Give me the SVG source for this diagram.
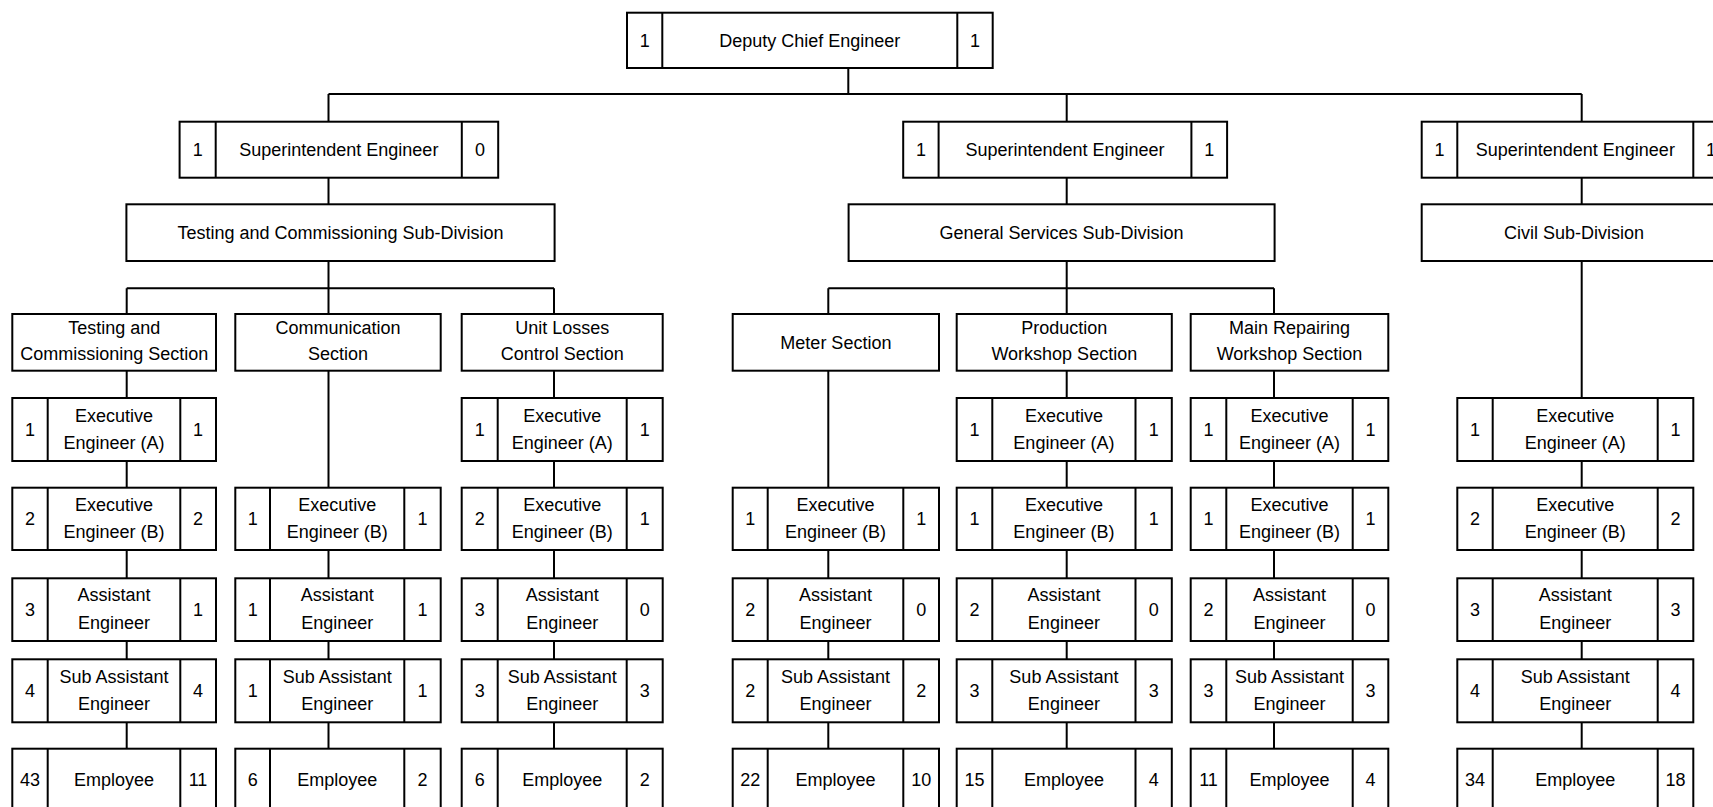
<svg xmlns="http://www.w3.org/2000/svg" width="1713" height="807" viewBox="0 0 1713 807">
<style>
.b{fill:#fff;stroke:#000;stroke-width:2}
.d{fill:none;stroke:#000;stroke-width:2}
.c path{fill:none;stroke:#000;stroke-width:2}
text{font-family:"Liberation Sans",Arial,sans-serif;font-size:18px;text-anchor:middle;fill:#000}
</style>
<rect width="1713" height="807" fill="#fff"/>
<g id="connectors" class="c">
<path d="M848.3 68V94M328.5 94H1581.7M328.5 94V748.7M1066.7 94V748.7M1581.7 94V748.7M126.7 288.3H554M828.3 288.3H1274M126.7 288.3V748.7M554 288.3V748.7M828.3 288.3V748.7M1274 288.3V748.7"/>
</g>

<g id="deputy"><rect class="b" x="627" y="12.7" width="365.7" height="55.3"/><path class="d" d="M662.3 12.7V68M957.3 12.7V68"/><text x="644.7" y="46.5">1</text><text x="809.8" y="46.5">Deputy Chief Engineer</text><text x="975" y="46.5">1</text></g>

<g id="super1"><rect class="b" x="179.6" y="121.7" width="318.6" height="56"/><path class="d" d="M215.7 121.7V177.7M461.8 121.7V177.7"/><text x="197.7" y="156">1</text><text x="338.8" y="156">Superintendent Engineer</text><text x="480" y="156">0</text></g>
<g id="super2"><rect class="b" x="903.2" y="121.7" width="323.9" height="56"/><path class="d" d="M938.6 121.7V177.7M1191.4 121.7V177.7"/><text x="920.9" y="156">1</text><text x="1065" y="156">Superintendent Engineer</text><text x="1209.2" y="156">1</text></g>
<g id="super3"><rect class="b" x="1421.7" y="121.7" width="307" height="56"/><path class="d" d="M1457.3 121.7V177.7M1693.3 121.7V177.7"/><text x="1439.5" y="156">1</text><text x="1575.3" y="156">Superintendent Engineer</text><text x="1711" y="156">1</text></g>

<g id="subdiv1"><rect class="b" x="126.4" y="204.3" width="428.2" height="56.7"/><text x="340.5" y="238.5">Testing and Commissioning Sub-Division</text></g>
<g id="subdiv2"><rect class="b" x="848.6" y="204.3" width="426" height="56.7"/><text x="1061.6" y="238.5">General Services Sub-Division</text></g>
<g id="subdiv3"><rect class="b" x="1421.7" y="204.3" width="305" height="56.7"/><text x="1574" y="238.5">Civil Sub-Division</text></g>

<g id="sec-tc"><rect class="b" x="12.3" y="314" width="203.7" height="56.7"/><text x="114.2" y="333.5">Testing and</text><text x="114.2" y="360">Commissioning Section</text></g>
<g id="sec-comm"><rect class="b" x="235.3" y="314" width="205.4" height="56.7"/><text x="338" y="333.5">Communication</text><text x="338" y="360">Section</text></g>
<g id="sec-unit"><rect class="b" x="461.7" y="314" width="201" height="56.7"/><text x="562.2" y="333.5">Unit Losses</text><text x="562.2" y="360">Control Section</text></g>
<g id="sec-meter"><rect class="b" x="732.7" y="314" width="206.3" height="56.7"/><text x="835.9" y="348.5">Meter Section</text></g>
<g id="sec-prod"><rect class="b" x="956.7" y="314" width="215.1" height="56.7"/><text x="1064.3" y="333.5">Production</text><text x="1064.3" y="360">Workshop Section</text></g>
<g id="sec-main"><rect class="b" x="1190.7" y="314" width="197.6" height="56.7"/><text x="1289.5" y="333.5">Main Repairing</text><text x="1289.5" y="360">Workshop Section</text></g>

<!-- Testing and Commissioning column -->
<g id="tc-exa"><rect class="b" x="12.3" y="398" width="203.7" height="63"/><path class="d" d="M47.7 398V461M180.3 398V461"/><text x="30" y="435.5">1</text><text x="114" y="421.5">Executive</text><text x="114" y="449">Engineer (A)</text><text x="198" y="435.5">1</text></g>
<g id="tc-exb"><rect class="b" x="12.3" y="487.7" width="203.7" height="62.3"/><path class="d" d="M47.7 487.7V550M180.3 487.7V550"/><text x="30" y="525">2</text><text x="114" y="510.5">Executive</text><text x="114" y="538">Engineer (B)</text><text x="198" y="525">2</text></g>
<g id="tc-ae"><rect class="b" x="12.3" y="578.3" width="203.7" height="62.7"/><path class="d" d="M47.7 578.3V641M180.3 578.3V641"/><text x="30" y="616">3</text><text x="114" y="601">Assistant</text><text x="114" y="628.5">Engineer</text><text x="198" y="616">1</text></g>
<g id="tc-sae"><rect class="b" x="12.3" y="659.3" width="203.7" height="63"/><path class="d" d="M47.7 659.3V722.3M180.3 659.3V722.3"/><text x="30" y="697">4</text><text x="114" y="682.5">Sub Assistant</text><text x="114" y="710">Engineer</text><text x="198" y="697">4</text></g>
<g id="tc-emp"><rect class="b" x="12.3" y="748.7" width="203.7" height="64"/><path class="d" d="M47.7 748.7V812.7M180.3 748.7V812.7"/><text x="30" y="786">43</text><text x="114" y="786">Employee</text><text x="198" y="786">11</text></g>

<!-- Communication column -->
<g id="cm-exb"><rect class="b" x="235.3" y="487.7" width="205.4" height="62.3"/><path class="d" d="M270 487.7V550M404.3 487.7V550"/><text x="252.7" y="525">1</text><text x="337.2" y="510.5">Executive</text><text x="337.2" y="538">Engineer (B)</text><text x="422.5" y="525">1</text></g>
<g id="cm-ae"><rect class="b" x="235.3" y="578.3" width="205.4" height="62.7"/><path class="d" d="M270 578.3V641M404.3 578.3V641"/><text x="252.7" y="616">1</text><text x="337.2" y="601">Assistant</text><text x="337.2" y="628.5">Engineer</text><text x="422.5" y="616">1</text></g>
<g id="cm-sae"><rect class="b" x="235.3" y="659.3" width="205.4" height="63"/><path class="d" d="M270 659.3V722.3M404.3 659.3V722.3"/><text x="252.7" y="697">1</text><text x="337.2" y="682.5">Sub Assistant</text><text x="337.2" y="710">Engineer</text><text x="422.5" y="697">1</text></g>
<g id="cm-emp"><rect class="b" x="235.3" y="748.7" width="205.4" height="64"/><path class="d" d="M270 748.7V812.7M404.3 748.7V812.7"/><text x="252.7" y="786">6</text><text x="337.2" y="786">Employee</text><text x="422.5" y="786">2</text></g>

<!-- Unit Losses column -->
<g id="ul-exa"><rect class="b" x="461.7" y="398" width="201" height="63"/><path class="d" d="M497.7 398V461M626.7 398V461"/><text x="479.7" y="435.5">1</text><text x="562.2" y="421.5">Executive</text><text x="562.2" y="449">Engineer (A)</text><text x="644.7" y="435.5">1</text></g>
<g id="ul-exb"><rect class="b" x="461.7" y="487.7" width="201" height="62.3"/><path class="d" d="M497.7 487.7V550M626.7 487.7V550"/><text x="479.7" y="525">2</text><text x="562.2" y="510.5">Executive</text><text x="562.2" y="538">Engineer (B)</text><text x="644.7" y="525">1</text></g>
<g id="ul-ae"><rect class="b" x="461.7" y="578.3" width="201" height="62.7"/><path class="d" d="M497.7 578.3V641M626.7 578.3V641"/><text x="479.7" y="616">3</text><text x="562.2" y="601">Assistant</text><text x="562.2" y="628.5">Engineer</text><text x="644.7" y="616">0</text></g>
<g id="ul-sae"><rect class="b" x="461.7" y="659.3" width="201" height="63"/><path class="d" d="M497.7 659.3V722.3M626.7 659.3V722.3"/><text x="479.7" y="697">3</text><text x="562.2" y="682.5">Sub Assistant</text><text x="562.2" y="710">Engineer</text><text x="644.7" y="697">3</text></g>
<g id="ul-emp"><rect class="b" x="461.7" y="748.7" width="201" height="64"/><path class="d" d="M497.7 748.7V812.7M626.7 748.7V812.7"/><text x="479.7" y="786">6</text><text x="562.2" y="786">Employee</text><text x="644.7" y="786">2</text></g>

<!-- Meter column -->
<g id="mt-exb"><rect class="b" x="732.7" y="487.7" width="206.3" height="62.3"/><path class="d" d="M767.7 487.7V550M903.3 487.7V550"/><text x="750.2" y="525">1</text><text x="835.5" y="510.5">Executive</text><text x="835.5" y="538">Engineer (B)</text><text x="921.2" y="525">1</text></g>
<g id="mt-ae"><rect class="b" x="732.7" y="578.3" width="206.3" height="62.7"/><path class="d" d="M767.7 578.3V641M903.3 578.3V641"/><text x="750.2" y="616">2</text><text x="835.5" y="601">Assistant</text><text x="835.5" y="628.5">Engineer</text><text x="921.2" y="616">0</text></g>
<g id="mt-sae"><rect class="b" x="732.7" y="659.3" width="206.3" height="63"/><path class="d" d="M767.7 659.3V722.3M903.3 659.3V722.3"/><text x="750.2" y="697">2</text><text x="835.5" y="682.5">Sub Assistant</text><text x="835.5" y="710">Engineer</text><text x="921.2" y="697">2</text></g>
<g id="mt-emp"><rect class="b" x="732.7" y="748.7" width="206.3" height="64"/><path class="d" d="M767.7 748.7V812.7M903.3 748.7V812.7"/><text x="750.2" y="786">22</text><text x="835.5" y="786">Employee</text><text x="921.2" y="786">10</text></g>

<!-- Production Workshop column -->
<g id="pw-exa"><rect class="b" x="956.7" y="398" width="215.1" height="63"/><path class="d" d="M992.3 398V461M1135.5 398V461"/><text x="974.5" y="435.5">1</text><text x="1063.9" y="421.5">Executive</text><text x="1063.9" y="449">Engineer (A)</text><text x="1153.7" y="435.5">1</text></g>
<g id="pw-exb"><rect class="b" x="956.7" y="487.7" width="215.1" height="62.3"/><path class="d" d="M992.3 487.7V550M1135.5 487.7V550"/><text x="974.5" y="525">1</text><text x="1063.9" y="510.5">Executive</text><text x="1063.9" y="538">Engineer (B)</text><text x="1153.7" y="525">1</text></g>
<g id="pw-ae"><rect class="b" x="956.7" y="578.3" width="215.1" height="62.7"/><path class="d" d="M992.3 578.3V641M1135.5 578.3V641"/><text x="974.5" y="616">2</text><text x="1063.9" y="601">Assistant</text><text x="1063.9" y="628.5">Engineer</text><text x="1153.7" y="616">0</text></g>
<g id="pw-sae"><rect class="b" x="956.7" y="659.3" width="215.1" height="63"/><path class="d" d="M992.3 659.3V722.3M1135.5 659.3V722.3"/><text x="974.5" y="697">3</text><text x="1063.9" y="682.5">Sub Assistant</text><text x="1063.9" y="710">Engineer</text><text x="1153.7" y="697">3</text></g>
<g id="pw-emp"><rect class="b" x="956.7" y="748.7" width="215.1" height="64"/><path class="d" d="M992.3 748.7V812.7M1135.5 748.7V812.7"/><text x="974.5" y="786">15</text><text x="1063.9" y="786">Employee</text><text x="1153.7" y="786">4</text></g>

<!-- Main Repairing Workshop column -->
<g id="mr-exa"><rect class="b" x="1190.7" y="398" width="197.6" height="63"/><path class="d" d="M1226.3 398V461M1352.7 398V461"/><text x="1208.5" y="435.5">1</text><text x="1289.5" y="421.5">Executive</text><text x="1289.5" y="449">Engineer (A)</text><text x="1370.5" y="435.5">1</text></g>
<g id="mr-exb"><rect class="b" x="1190.7" y="487.7" width="197.6" height="62.3"/><path class="d" d="M1226.3 487.7V550M1352.7 487.7V550"/><text x="1208.5" y="525">1</text><text x="1289.5" y="510.5">Executive</text><text x="1289.5" y="538">Engineer (B)</text><text x="1370.5" y="525">1</text></g>
<g id="mr-ae"><rect class="b" x="1190.7" y="578.3" width="197.6" height="62.7"/><path class="d" d="M1226.3 578.3V641M1352.7 578.3V641"/><text x="1208.5" y="616">2</text><text x="1289.5" y="601">Assistant</text><text x="1289.5" y="628.5">Engineer</text><text x="1370.5" y="616">0</text></g>
<g id="mr-sae"><rect class="b" x="1190.7" y="659.3" width="197.6" height="63"/><path class="d" d="M1226.3 659.3V722.3M1352.7 659.3V722.3"/><text x="1208.5" y="697">3</text><text x="1289.5" y="682.5">Sub Assistant</text><text x="1289.5" y="710">Engineer</text><text x="1370.5" y="697">3</text></g>
<g id="mr-emp"><rect class="b" x="1190.7" y="748.7" width="197.6" height="64"/><path class="d" d="M1226.3 748.7V812.7M1352.7 748.7V812.7"/><text x="1208.5" y="786">11</text><text x="1289.5" y="786">Employee</text><text x="1370.5" y="786">4</text></g>

<!-- Civil column -->
<g id="cv-exa"><rect class="b" x="1457.3" y="398" width="236" height="63"/><path class="d" d="M1492.7 398V461M1657.7 398V461"/><text x="1475" y="435.5">1</text><text x="1575.2" y="421.5">Executive</text><text x="1575.2" y="449">Engineer (A)</text><text x="1675.5" y="435.5">1</text></g>
<g id="cv-exb"><rect class="b" x="1457.3" y="487.7" width="236" height="62.3"/><path class="d" d="M1492.7 487.7V550M1657.7 487.7V550"/><text x="1475" y="525">2</text><text x="1575.2" y="510.5">Executive</text><text x="1575.2" y="538">Engineer (B)</text><text x="1675.5" y="525">2</text></g>
<g id="cv-ae"><rect class="b" x="1457.3" y="578.3" width="236" height="62.7"/><path class="d" d="M1492.7 578.3V641M1657.7 578.3V641"/><text x="1475" y="616">3</text><text x="1575.2" y="601">Assistant</text><text x="1575.2" y="628.5">Engineer</text><text x="1675.5" y="616">3</text></g>
<g id="cv-sae"><rect class="b" x="1457.3" y="659.3" width="236" height="63"/><path class="d" d="M1492.7 659.3V722.3M1657.7 659.3V722.3"/><text x="1475" y="697">4</text><text x="1575.2" y="682.5">Sub Assistant</text><text x="1575.2" y="710">Engineer</text><text x="1675.5" y="697">4</text></g>
<g id="cv-emp"><rect class="b" x="1457.3" y="748.7" width="236" height="64"/><path class="d" d="M1492.7 748.7V812.7M1657.7 748.7V812.7"/><text x="1475" y="786">34</text><text x="1575.2" y="786">Employee</text><text x="1675.5" y="786">18</text></g>
</svg>
